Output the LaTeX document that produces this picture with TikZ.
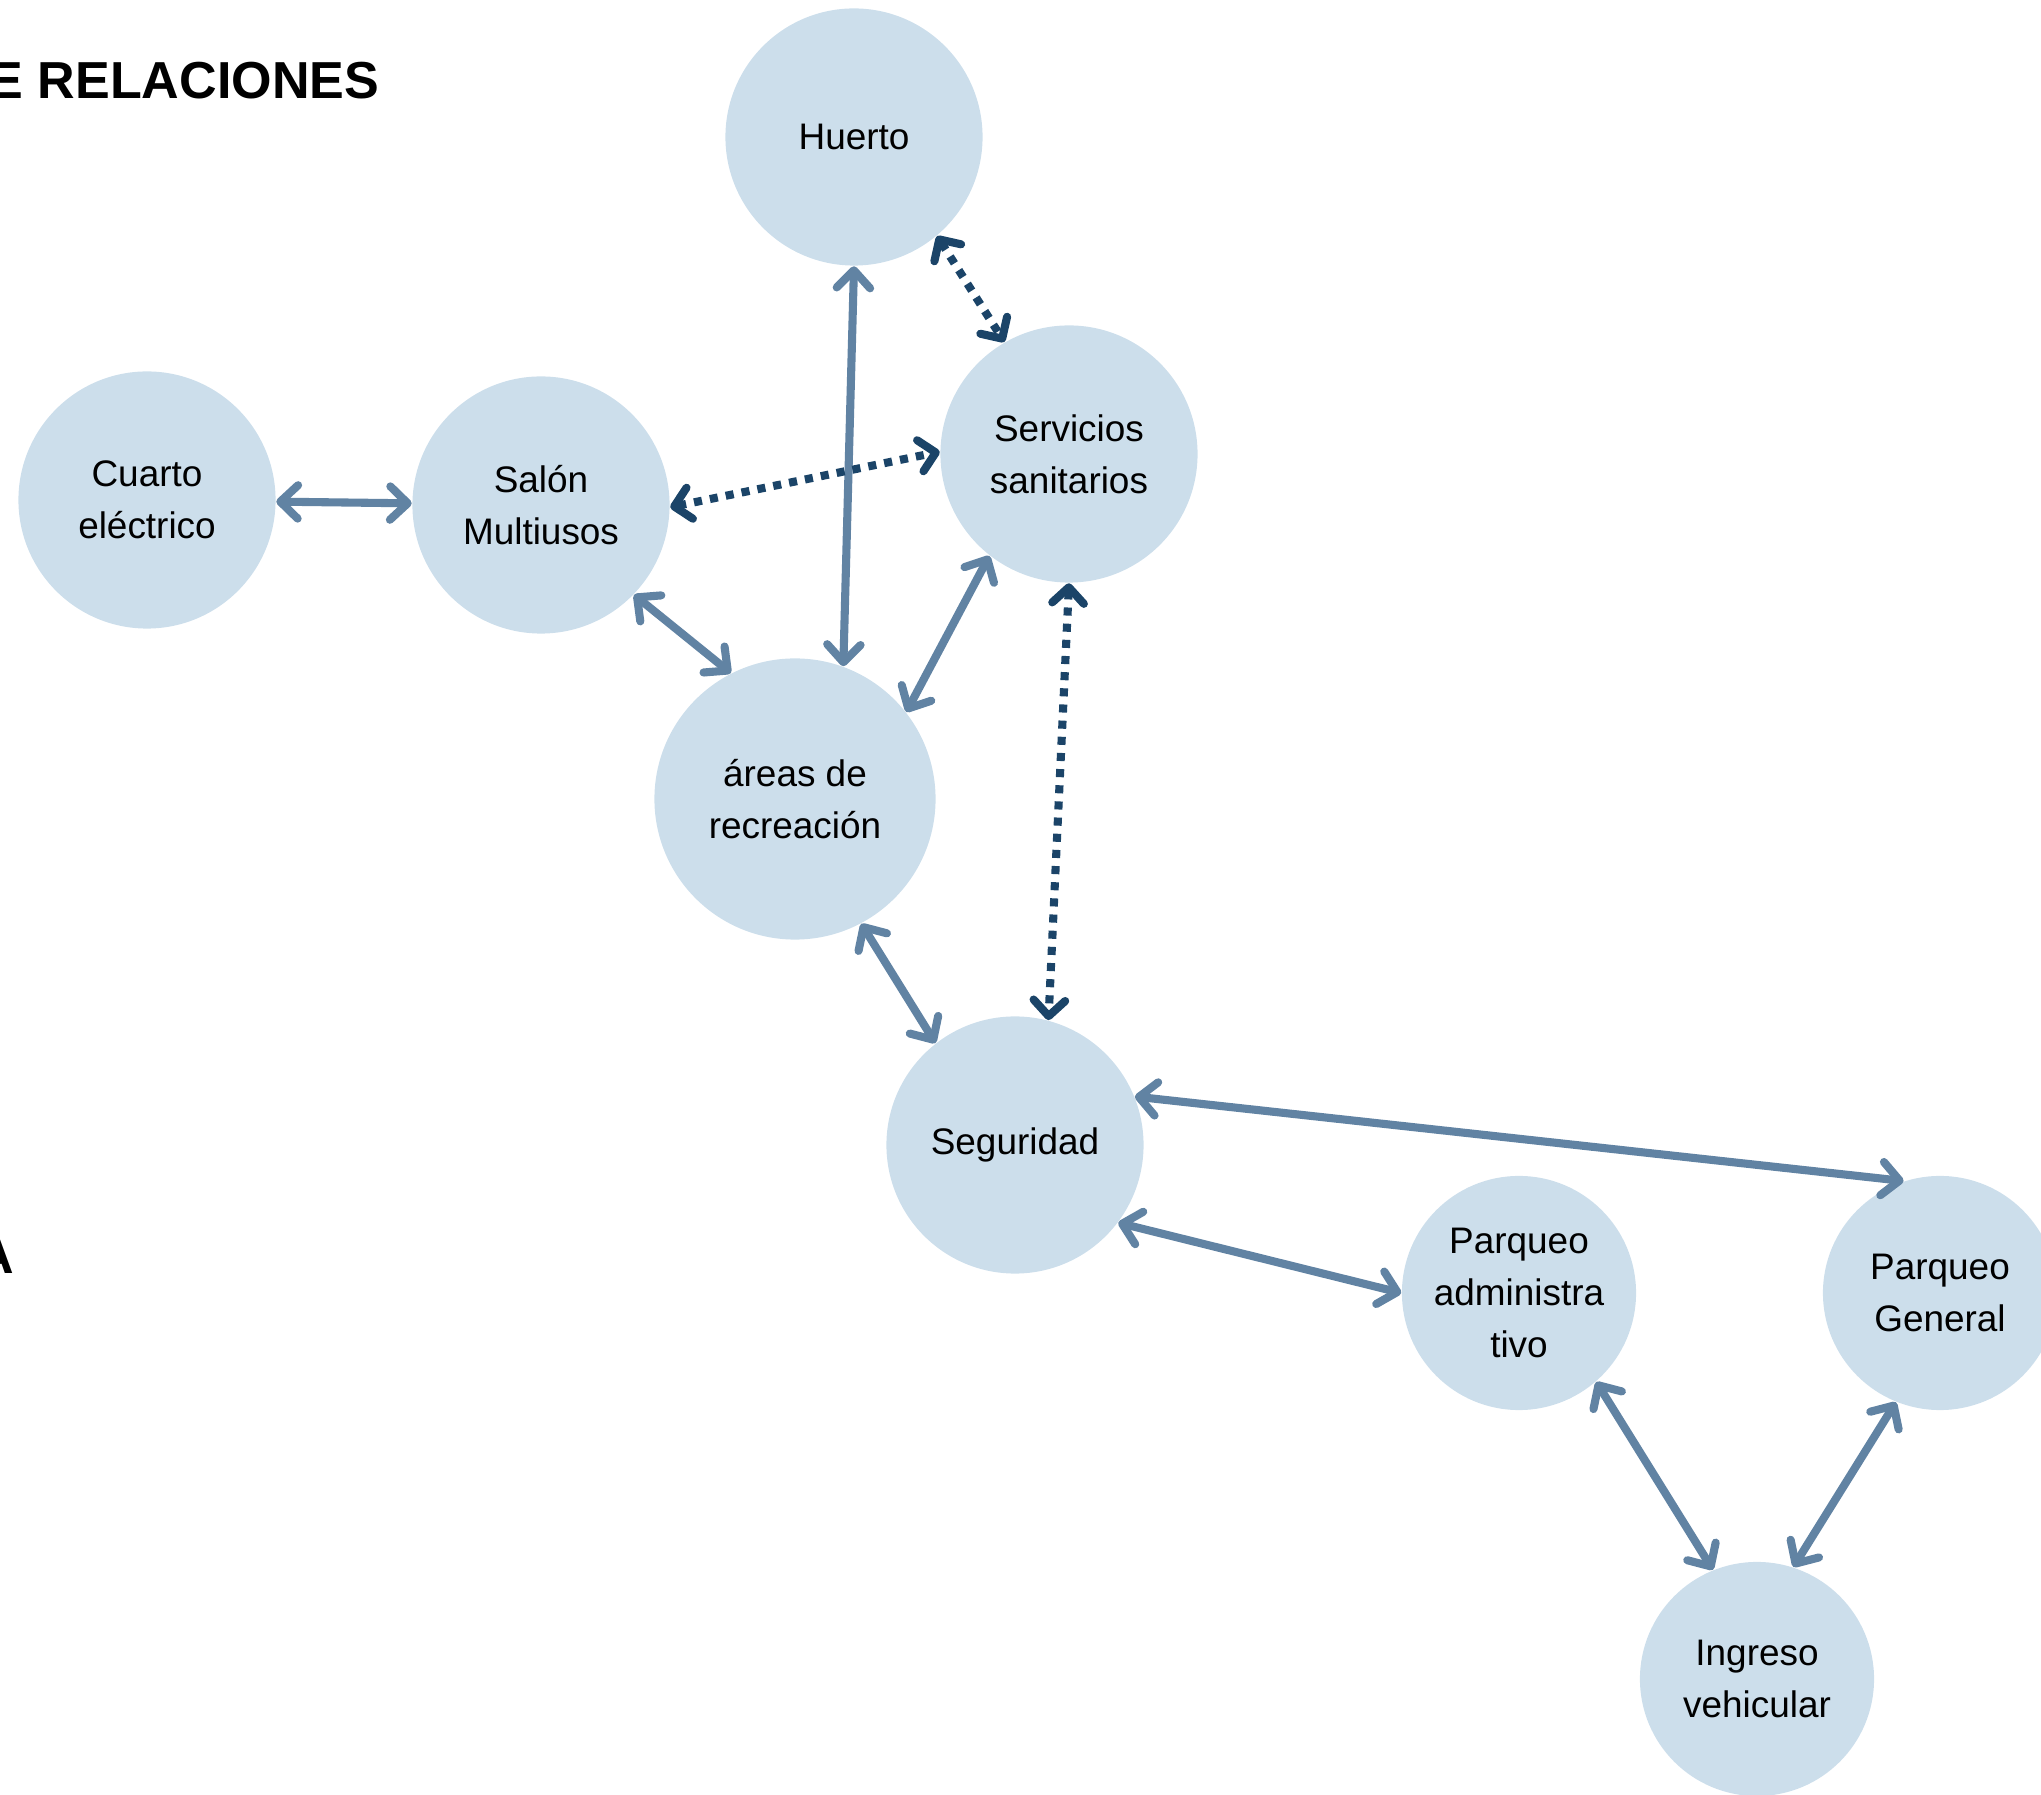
\documentclass[tikz,border=0pt]{standalone}
\usepackage{fontspec}
\setmainfont{Liberation Sans}
\usetikzlibrary{arrows.meta}
\definecolor{roomfill}{HTML}{CCDEEB}
\definecolor{linkblue}{HTML}{6183A3}
\definecolor{linknavy}{HTML}{1B4468}
\tikzset{
  room/.style={circle, fill=roomfill, minimum size=2.57cm, inner sep=0pt, align=center, font=\fontsize{10.5}{14.8}\selectfont},
  bigroom/.style={room, minimum size=2.81cm},
  smallroom/.style={room, minimum size=2.34cm},
  title/.style={font=\fontsize{14.8}{17}\selectfont\bfseries, inner sep=0pt, anchor=base west},
  arrow/.style={{Straight Barb[length=5pt,width=9.5pt,line cap=round,line join=round]}-{Straight Barb[length=5pt,width=9.5pt,line cap=round,line join=round]}, line width=2.3pt, linkblue},
  dotarrow/.style={{Straight Barb[length=4.5pt,width=9pt,line cap=round,line join=round]}-{Straight Barb[length=4.5pt,width=9pt,line cap=round,line join=round]}, line width=2.3pt, linknavy, dash pattern=on 2.3pt off 2.3pt}
}
\begin{document}
\begin{tikzpicture}[x=0.01cm, y=-0.01cm]
  \useasboundingbox (0,0) rectangle (2041,1795);
  \node[title] (ttl) at (-12,99) {E RELACIONES};
  \node[title] (tla) at (-24,1274) {A};
  % spaces
  \node[room] (huerto) at (854,137) {Huerto};
  \node[room] (serv) at (1069,454) {Servicios\\sanitarios};
  \node[room] (cuarto) at (147,500) {Cuarto\\eléctrico};
  \node[room] (salon) at (541,505) {Salón\\Multiusos};
  \node[bigroom] (areas) at (795,799) {áreas de\\recreación};
  \node[room] (seg) at (1015,1145) {Seguridad};
  \node[smallroom] (padm) at (1519,1293) {Parqueo\\administra\\tivo};
  \node[smallroom] (pgen) at (1940,1293) {Parqueo\\General};
  \node[smallroom] (ingr) at (1757,1679) {Ingreso\\vehicular};
  % links
  \draw[arrow] (cuarto) -- (salon);
  \draw[arrow] (salon.-44) -- (areas.117);
  \draw[arrow] (huerto.270) -- (areas.70);
  \draw[arrow] (serv.232) -- (areas.38);
  \draw[arrow] (areas.-62) -- (seg.128);
  \draw[arrow] (seg.22) -- (pgen.108);
  \draw[arrow] (seg.-37) -- (padm.180);
  \draw[arrow] (padm.-49) -- (ingr.112);
  \draw[arrow] (pgen.248) -- (ingr.72);
  \draw[dotarrow] (huerto.-50) -- (serv.120);
  \draw[dotarrow] (salon.-1) -- (serv.179);
  \draw[dotarrow] (serv.270) -- (seg.75);
\end{tikzpicture}
\end{document}
